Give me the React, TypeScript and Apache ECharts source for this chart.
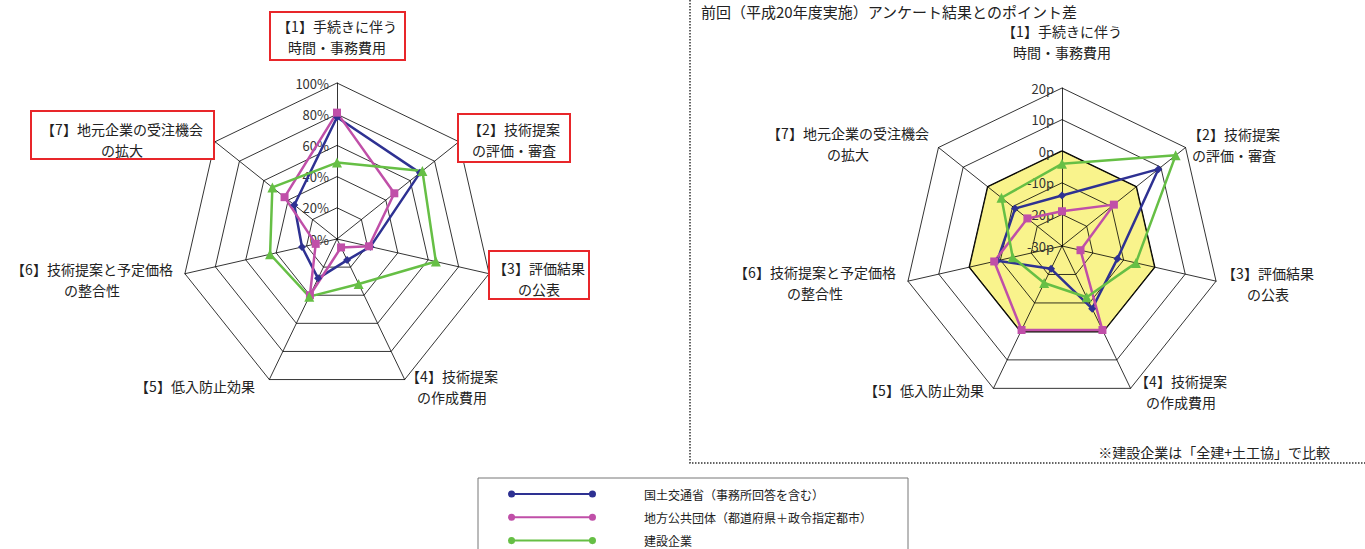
import React, { useEffect, useRef } from "react";
import * as echarts from "echarts";

// ---- data ----
const categories = [
  "【1】手続きに伴う\n時間・事務費用",
  "【2】技術提案\nの評価・審査",
  "【3】評価結果\nの公表",
  "【4】技術提案\nの作成費用",
  "【5】低入防止効果",
  "【6】技術提案と予定価格\nの整合性",
  "【7】地元企業の受注機会\nの拡大",
];
const seriesNames = [
  "国土交通省（事務所回答を含む）",
  "地方公共団体（都道府県＋政令指定都市）",
  "建設企業",
];
// left: share (%)
const leftMlit = [78, 68, 22, 15, 28, 23, 35];
const leftLocal = [81, 47, 21, 6, 40, 14, 43];
const leftFirms = [49, 70, 65, 32, 41, 44, 53];
// right: point difference vs previous survey
const rightMlit = [-14, 9, -12, -8, -22, -9, -11];
const rightLocal = [-19, -9, -24, -0.5, -0.5, -8, -16];
const rightFirms = [-4, 16, -6, -12, -17, -14, -5.5];
const rightZero = [0, 0, 0, 0, 0, 0, 0];
const leftTicks = { min: 0, max: 100, unit: "%" };
const rightTicks = { min: -30, max: 20, unit: "p" };
const titleRight = "前回（平成20年度実施）アンケート結果とのポイント差";
const note = "※建設企業は「全建+土工協」で比較";

const COLORS = ["#2E3192", "#C04FA8", "#66BF45"];
const SYMBOLS = ["diamond", "rect", "triangle"];
const FONT = "'Noto Sans CJK JP', 'Noto Sans', sans-serif";

// ECharts radar runs counter-clockwise; reorder so categories run clockwise
const ORDER = [0, 6, 5, 4, 3, 2, 1];
const reorder = (arr: number[]) => ORDER.map((k) => arr[k]);

const LEGEND_ICON =
  "path://M0.5,4a3.5,3.5 0 1,0 7,0a3.5,3.5 0 1,0 -7,0z M4,3 v2 h80 v-2 z M80.5,4a3.5,3.5 0 1,0 7,0a3.5,3.5 0 1,0 -7,0z";

function makeRadar(center: number[], radius: number, t: { min: number; max: number; unit: string }) {
  return {
    center,
    radius,
    startAngle: 90,
    shape: "polygon",
    splitNumber: 5,
    z: 1,
    indicator: ORDER.map((_, i) => ({
      name: "",
      min: t.min,
      max: t.max,
      ...(i === 0
        ? {
            axisLabel: {
              show: true,
              formatter: (v: number) => `${v}${t.unit}`,
              color: "#333",
              fontSize: 13,
              fontFamily: FONT,
            },
          }
        : {}),
    })),
    axisName: { show: false },
    splitLine: { lineStyle: { color: "#000", width: 0.8 } },
    splitArea: { show: false },
    axisLine: { lineStyle: { color: "#000", width: 0.8 } },
    axisTick: { show: false },
    axisLabel: { show: false },
  };
}

function dataSeries(radarIndex: number, values: number[][]) {
  return values.map((v, i) => ({
    type: "radar",
    name: seriesNames[i],
    radarIndex,
    z: 3,
    symbol: SYMBOLS[i],
    symbolSize: i === 2 ? 10 : 8,
    itemStyle: { color: COLORS[i] },
    lineStyle: { color: COLORS[i], width: 2.5 },
    data: [{ value: reorder(v), name: seriesNames[i] }],
  }));
}

type Lbl = { text: string; x: number; y: number; box?: number[] };
const labelPos: Lbl[] = [
  { text: categories[0], x: 337, y: 36, box: [270, 12, 135, 48] },
  { text: categories[1], x: 514, y: 139, box: [458, 114, 112, 48] },
  { text: categories[2], x: 539, y: 278, box: [489, 251, 100, 48] },
  { text: categories[3], x: 452, y: 386 },
  { text: categories[4], x: 195, y: 386 },
  { text: categories[5], x: 92, y: 279 },
  { text: categories[6], x: 122, y: 139, box: [31, 111, 183, 48] },
  { text: categories[0], x: 1062, y: 41 },
  { text: categories[1], x: 1234, y: 144 },
  { text: categories[2], x: 1268, y: 283 },
  { text: categories[3], x: 1181, y: 391 },
  { text: categories[4], x: 924, y: 390 },
  { text: categories[5], x: 815, y: 282 },
  { text: categories[6], x: 848, y: 143 },
];

export default function App() {
  const ref = useRef<HTMLDivElement>(null);
  useEffect(() => {
    if (!ref.current) return;
    const chart = echarts.init(ref.current, null, { renderer: "svg" });
    const graphics: any[] = [];
    labelPos.forEach((l) => {
      if (l.box) {
        graphics.push({
          type: "rect",
          shape: { x: l.box[0], y: l.box[1], width: l.box[2], height: l.box[3] },
          style: { fill: "#fff", stroke: "#E8262A", lineWidth: 2 },
          z: 10,
        });
      }
      graphics.push({
        type: "text",
        x: l.x,
        y: l.y,
        z: 11,
        style: {
          text: l.text,
          fill: "#222",
          font: `14px ${FONT}`,
          lineHeight: 21,
          align: "center",
          verticalAlign: "middle",
        },
      });
    });
    graphics.push(
      {
        type: "polyline",
        shape: { points: [[690, 0], [690, 463], [1366, 463]] },
        style: { fill: "none", stroke: "#333", lineWidth: 1.5, lineDash: [1.5, 1.5] },
      },
      {
        type: "text",
        x: 701,
        y: 11,
        style: { text: titleRight, fill: "#222", font: `15px ${FONT}`, verticalAlign: "middle" },
      },
      {
        type: "text",
        x: 1330,
        y: 452,
        style: { text: note, fill: "#222", font: `14px ${FONT}`, align: "right", verticalAlign: "middle" },
      },
      {
        type: "rect",
        shape: { x: 478, y: 478, width: 430, height: 100 },
        style: { fill: "none", stroke: "#777", lineWidth: 1 },
      }
    );

    const legends = seriesNames.map((n, i) => ({
      data: [n],
      orient: "vertical",
      left: 508,
      top: 488 + i * 23.3,
      itemWidth: 88,
      itemHeight: 8,
      icon: LEGEND_ICON,
      selectedMode: false,
      padding: 0,
      textStyle: { fontSize: 12, color: "#222", fontFamily: FONT, padding: [0, 0, 0, 43] },
    }));

    chart.setOption({
      animation: false,
      backgroundColor: "#fff",
      radar: [makeRadar([337, 239], 156, leftTicks), makeRadar([1062, 246], 158, rightTicks)],
      legend: legends,
      graphic: graphics,
      series: [
        ...dataSeries(0, [leftMlit, leftLocal, leftFirms]),
        {
          type: "radar",
          name: "zero",
          radarIndex: 1,
          z: 0,
          symbol: "none",
          lineStyle: { color: "#000", width: 2 },
          areaStyle: { color: "#F9F38C", opacity: 1 },
          data: [{ value: rightZero, name: "zero" }],
        },
        ...dataSeries(1, [rightMlit, rightLocal, rightFirms]),
      ],
    });
    return () => chart.dispose();
  }, []);
  return (
    <div
      ref={ref}
      style={{ position: "fixed", left: 0, top: 0, width: 1365, height: 549, background: "#fff" }}
    />
  );
}
